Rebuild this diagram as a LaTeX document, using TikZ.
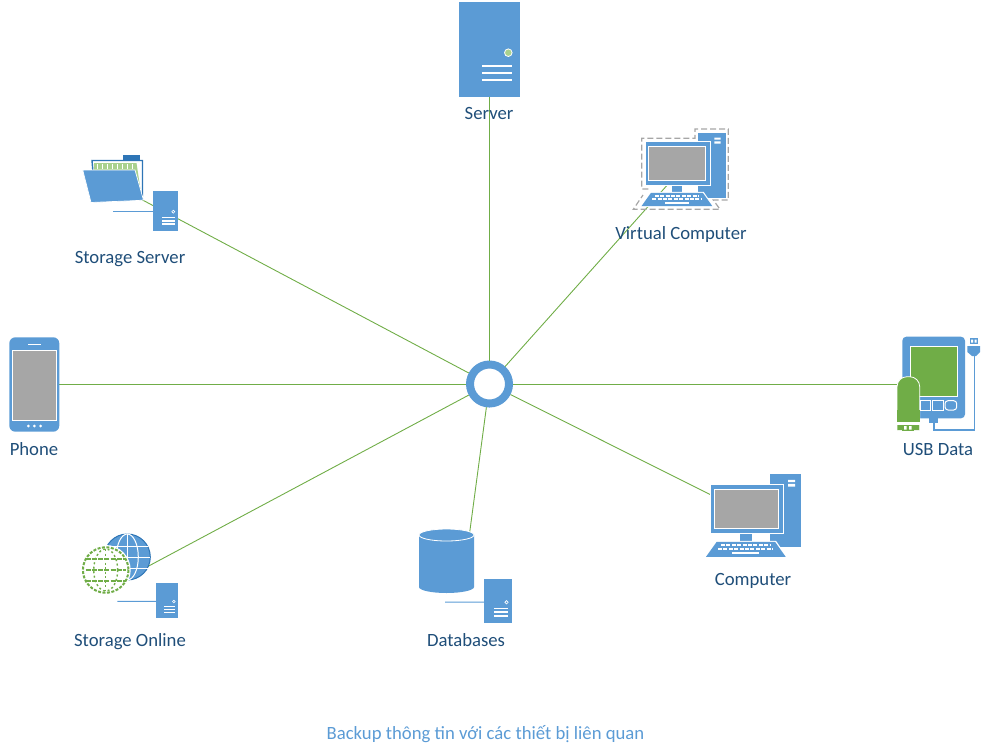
\documentclass[tikz,border=0pt]{standalone}
\usepackage{fontspec}
\setmainfont{Carlito}
\definecolor{iconblue}{HTML}{5B9BD5}
\definecolor{darkblue}{HTML}{2E75B6}
\definecolor{textblue}{HTML}{1F4E79}
\definecolor{linkgreen}{HTML}{70AD47}
\definecolor{palegreen}{HTML}{A9D18E}
\definecolor{screengray}{HTML}{A6A6A6}
\tikzset{
    link/.style={linkgreen, line width=.9pt},
    wire/.style={iconblue, line width=1pt},
    label/.style={textblue, anchor=base, font=\fontsize{18.7}{22}\selectfont},
    blueshape/.style={fill=iconblue, draw=white, line width=.7pt},
    screen/.style={fill=screengray, draw=white, line width=1pt},
    pics/towerbox/.style={code={
        \fill[iconblue] (0,0) rectangle (25,39.7);
        \coordinate (-w) at (0,20.5);
        \draw[white, line width=.6pt] (20.3,20.7) circle (1.5);
        \foreach \y in {26.3,29.7,33} \fill[white] (8.7,\y-.8) rectangle (22,\y+.8);
    }},
    pics/desktop/.style={code={
        % Tower
        \fill[iconblue] (60,-10) rectangle (90.7,62.7);
        \fill[white] (78,-4.5) rectangle (85,-2.2) (78,-.5) rectangle (85,2.2);
        % Monitor
        \draw[blueshape] (0,0) rectangle (73,49);
        \draw[screen] (4.3,5) rectangle (68.3,44);
        \fill[iconblue] (30,49.5) rectangle (42,57.5);
        % Keyboard
        \fill[white] (-6,73.5) -- (5.7,56.5) -- (66,56.5) -- (77.7,73.5) -- cycle;
        \fill[iconblue] (-4,72.5) -- (6.7,57.5) -- (65,57.5) -- (75.7,72.5) -- cycle;
        \foreach \y/\a/\b in {60.7/11/60,64.2/8/63} \draw[white, line width=2pt, dash pattern=on 4pt off 1.4pt] (\a,\y) -- (\b,\y);
        \fill[white] (22,67.8) rectangle (49,69.8);
    }}
}
\begin{document}
\begin{tikzpicture}[x=1pt,y=-1pt]
    \useasboundingbox (0,0) rectangle (985,755);

    % Hub and link ends
    \node[circle, draw=iconblue, fill=white, line width=8pt, minimum size=39pt, inner sep=0pt] (hub) at (489.5,384) {};
    \coordinate (server) at (489.5,90);
    \coordinate (virtualpc) at (670,182);
    \coordinate (storageserver) at (135,196);
    \coordinate (phone) at (50,384);
    \coordinate (usbdata) at (905,384);
    \coordinate (computer) at (718,498.5);
    \coordinate (storageonline) at (130,576);
    \coordinate (databases) at (468,545);

    % Links
    \foreach \n in {server,virtualpc,storageserver,phone,usbdata,computer,storageonline,databases}
        \draw[link] (hub) -- (\n);

    % Server
    \fill[iconblue] (459.3,1.7) rectangle (520,96.7);
    \draw[white, fill=palegreen, line width=.8pt] (508.3,52.7) circle (3.8);
    \foreach \y in {65.7,73,80.3} \fill[white] (482.3,\y-1.1) rectangle (512,\y+1.1);

    % Virtual Computer
    \pic[scale=.89] (vpc) at (645,141.7) {desktop};
    \draw[gray!70, line width=1.2pt, dash pattern=on 6pt off 3pt] (648.3,189) -- (641.7,189) -- (641.7,138.3) -- (695,138.3) -- (695,129) -- (728.3,129) -- (728.3,200) -- (713.3,200) -- (720,209.3) -- (633.3,209.3) -- (643,195);

    % Storage Server
    \fill[darkblue] (123.3,155) rectangle (140,162);
    \draw[darkblue, fill=white, line width=1.4pt] (92,160.5) -- (142.5,160.5) -- (142.5,196) -- (95,196) -- cycle;
    \fill[palegreen] (94,163) -- (136.5,163) -- (141,193) -- (94,193) -- cycle;
    \foreach \x in {97,102,...,132} \fill[white] (\x,164) rectangle (\x+1.4,168.5);
    \draw[blueshape] (82.7,170) -- (135,170) -- (143.5,200) -- (138,200.5) -- (91,202.5) -- cycle;
    \coordinate (stwire) at (113.3,211.5);
    \pic (sttower) at (153,191) {towerbox};
    \draw[wire] (stwire) -- (sttower-w);

    % Phone
    \fill[iconblue, rounded corners=6pt] (9.3,337.3) rectangle (59.3,431.7);
    \draw[screen] (12.7,350) rectangle (56,420.7);
    \fill[white] (27.7,343.6) rectangle (41,345);
    \foreach \x in {28.3,34.3,40.7} \fill[white] (\x,426) circle (1.5);

    % USB Data
    \fill[iconblue, rounded corners=4pt] (902.3,336.7) rectangle (965,418.3);
    \fill[linkgreen, draw=white, line width=.7pt] (910,346) rectangle (957.7,396.7);
    \draw[white, line width=1pt] (920,400.7) rectangle (930,410);
    \draw[white, line width=1pt] (932,400.7) rectangle (943,410);
    \draw[white, line width=1pt, rounded corners=3pt] (945,400.7) -- (956.7,400.7) -- (956.7,410) -- (945,410) -- cycle;
    \fill[iconblue] (929.3,418) rectangle (938.3,423.3);
    \draw[iconblue, line width=1.3pt] (934,423) -- (934,430) -- (974.3,430) -- (974.3,352);
    \fill[iconblue] (967.3,346) -- (980,346) -- (980,352) -- (976,356) -- (972,356) -- (967.3,352) -- cycle;
    \fill[iconblue] (970,338) rectangle (977.7,343.5);
    \fill[white] (971.2,339.5) rectangle (973.2,342.5) (974.6,339.5) rectangle (976.6,342.5);
    \draw[fill=linkgreen, draw=white, line width=.8pt, rounded corners=10pt] (897,430) -- (897,376.7) -- (919.7,376.7) -- (919.7,430);
    \fill[white] (895,421.9) rectangle (922,425);
    \fill[linkgreen] (896.6,410) rectangle (920.1,421.7);
    \fill[linkgreen] (901.7,425) rectangle (914.3,430.7);
    \fill[white] (904,426) rectangle (906.6,429.7) (909,426) rectangle (911.6,429.7);

    % Computer
    \pic (pc) at (710,484.3) {desktop};

    % Storage Online
    \fill[iconblue, draw=darkblue, line width=1pt] (127.3,557) circle (23);
    \draw[white, line width=1pt] (127.3,534) -- (127.3,580);
    \draw[white, line width=1pt] (127.3,557) ellipse (11 and 23);
    \draw[white, line width=1pt] (107.1,546) -- (147.5,546);
    \draw[white, line width=1pt] (104.3,557) -- (150.3,557);
    \draw[white, line width=1pt] (107.1,568) -- (147.5,568);
    \fill[white] (105.7,570) circle (25);
    \draw[linkgreen, line width=2pt, dash pattern=on 3pt off 1.5pt] (105.7,570) circle (22.8);
    \foreach \y in {-11,0,11} \draw[linkgreen, line width=1.4pt, dash pattern=on 5pt off 1.2pt] (85.7,570+\y) -- (125.7,570+\y);
    \draw[linkgreen, line width=1.4pt, dash pattern=on 2pt off 2.5pt] (105.7,549) -- (105.7,591);
    \draw[linkgreen, line width=1.4pt, dash pattern=on 2pt off 2.5pt] (105.7,570) ellipse (12 and 21);
    \coordinate (onwire) at (117.3,601.3);
    \pic[scale=.88] (ontower) at (156,583.3) {towerbox};
    \draw[wire] (onwire) -- (ontower-w);

    % Databases
    \fill[iconblue] (419,535) -- (419,587) arc[start angle=180, end angle=360, x radius=27.5, y radius=-6] -- (474,535) -- cycle;
    \draw[fill=iconblue, draw=white, line width=.8pt] (446.5,535) ellipse (27.5 and 6);
    \coordinate (dbwire) at (445,602.05);
    \pic[scale=1.11] (dbtower) at (484,579.3) {towerbox};
    \draw[wire] (dbwire) -- (dbtower-w);

    % Labels
    \node[label] (lserver) at (489,119.5) {Server};
    \node[label] (lvirtual) at (681,239.5) {Virtual Computer};
    \node[label] (lstorage) at (130,263.5) {Storage Server};
    \node[label] (lphone) at (34,455.5) {Phone};
    \node[label] (lusb) at (938,455.5) {USB Data};
    \node[label] (lcomputer) at (753,585.5) {Computer};
    \node[label] (lonline) at (130,646.5) {Storage Online};
    \node[label] (ldb) at (466,646.5) {Databases};
    \node[label, text=iconblue] (caption) at (485.5,739) {Backup thông tin với các thiết bị liên quan};
\end{tikzpicture}
\end{document}
